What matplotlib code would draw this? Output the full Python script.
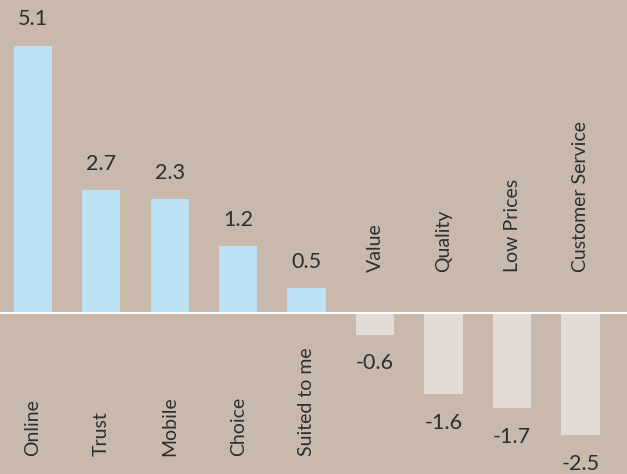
import matplotlib
matplotlib.use('Agg')
import matplotlib.pyplot as plt
import numpy as np

# data
categories = ['Online', 'Trust', 'Mobile', 'Choice', 'Suited to me',
              'Value', 'Quality', 'Low Prices', 'Customer Service']
score_labels = ['5.1', '2.7', '2.3', '1.2', '0.5', '-0.6', '-1.6', '-1.7', '-2.5']
# bar lengths as drawn (the printed labels do not match them exactly)
bar_heights = [5.1, 2.35, 2.18, 1.28, 0.48, -0.41, -1.54, -1.81, -2.32]

BG = '#c9b9ad'
POS = '#bae2f4'
NEG = '#e3dcd6'
TXT = '#2e2e2e'

plt.rcParams['font.family'] = ['Lato', 'DejaVu Sans']

fig = plt.figure(figsize=(6.27, 4.74), dpi=100, facecolor=BG)
ax = fig.add_axes([0, 0, 1, 1])
ax.set_facecolor(BG)

x = np.arange(len(categories))
heights = np.array(bar_heights)
colors = [POS if h >= 0 else NEG for h in heights]
ax.bar(x, heights, width=0.56, color=colors, zorder=2)
ax.axhline(0, color='white', lw=1.5, zorder=3)

for xi, h, lab, cat in zip(x, heights, score_labels, categories):
    if h >= 0:
        ax.text(xi, h + 0.5, lab, ha='center', va='center', fontsize=15.5, color=TXT)
        ax.text(xi, -2.72, cat, ha='center', va='bottom', rotation=90, fontsize=14, color=TXT)
    else:
        ax.text(xi, h - 0.55, lab, ha='center', va='center', fontsize=15.5, color=TXT)
        ax.text(xi, 0.78, cat, ha='center', va='bottom', rotation=90, fontsize=14, color=TXT)

ax.set_xlim(-0.48, 8.68)
ax.set_ylim(-3.07, 5.97)
ax.axis('off')

fig.savefig('out.png', dpi=100, facecolor=BG)
